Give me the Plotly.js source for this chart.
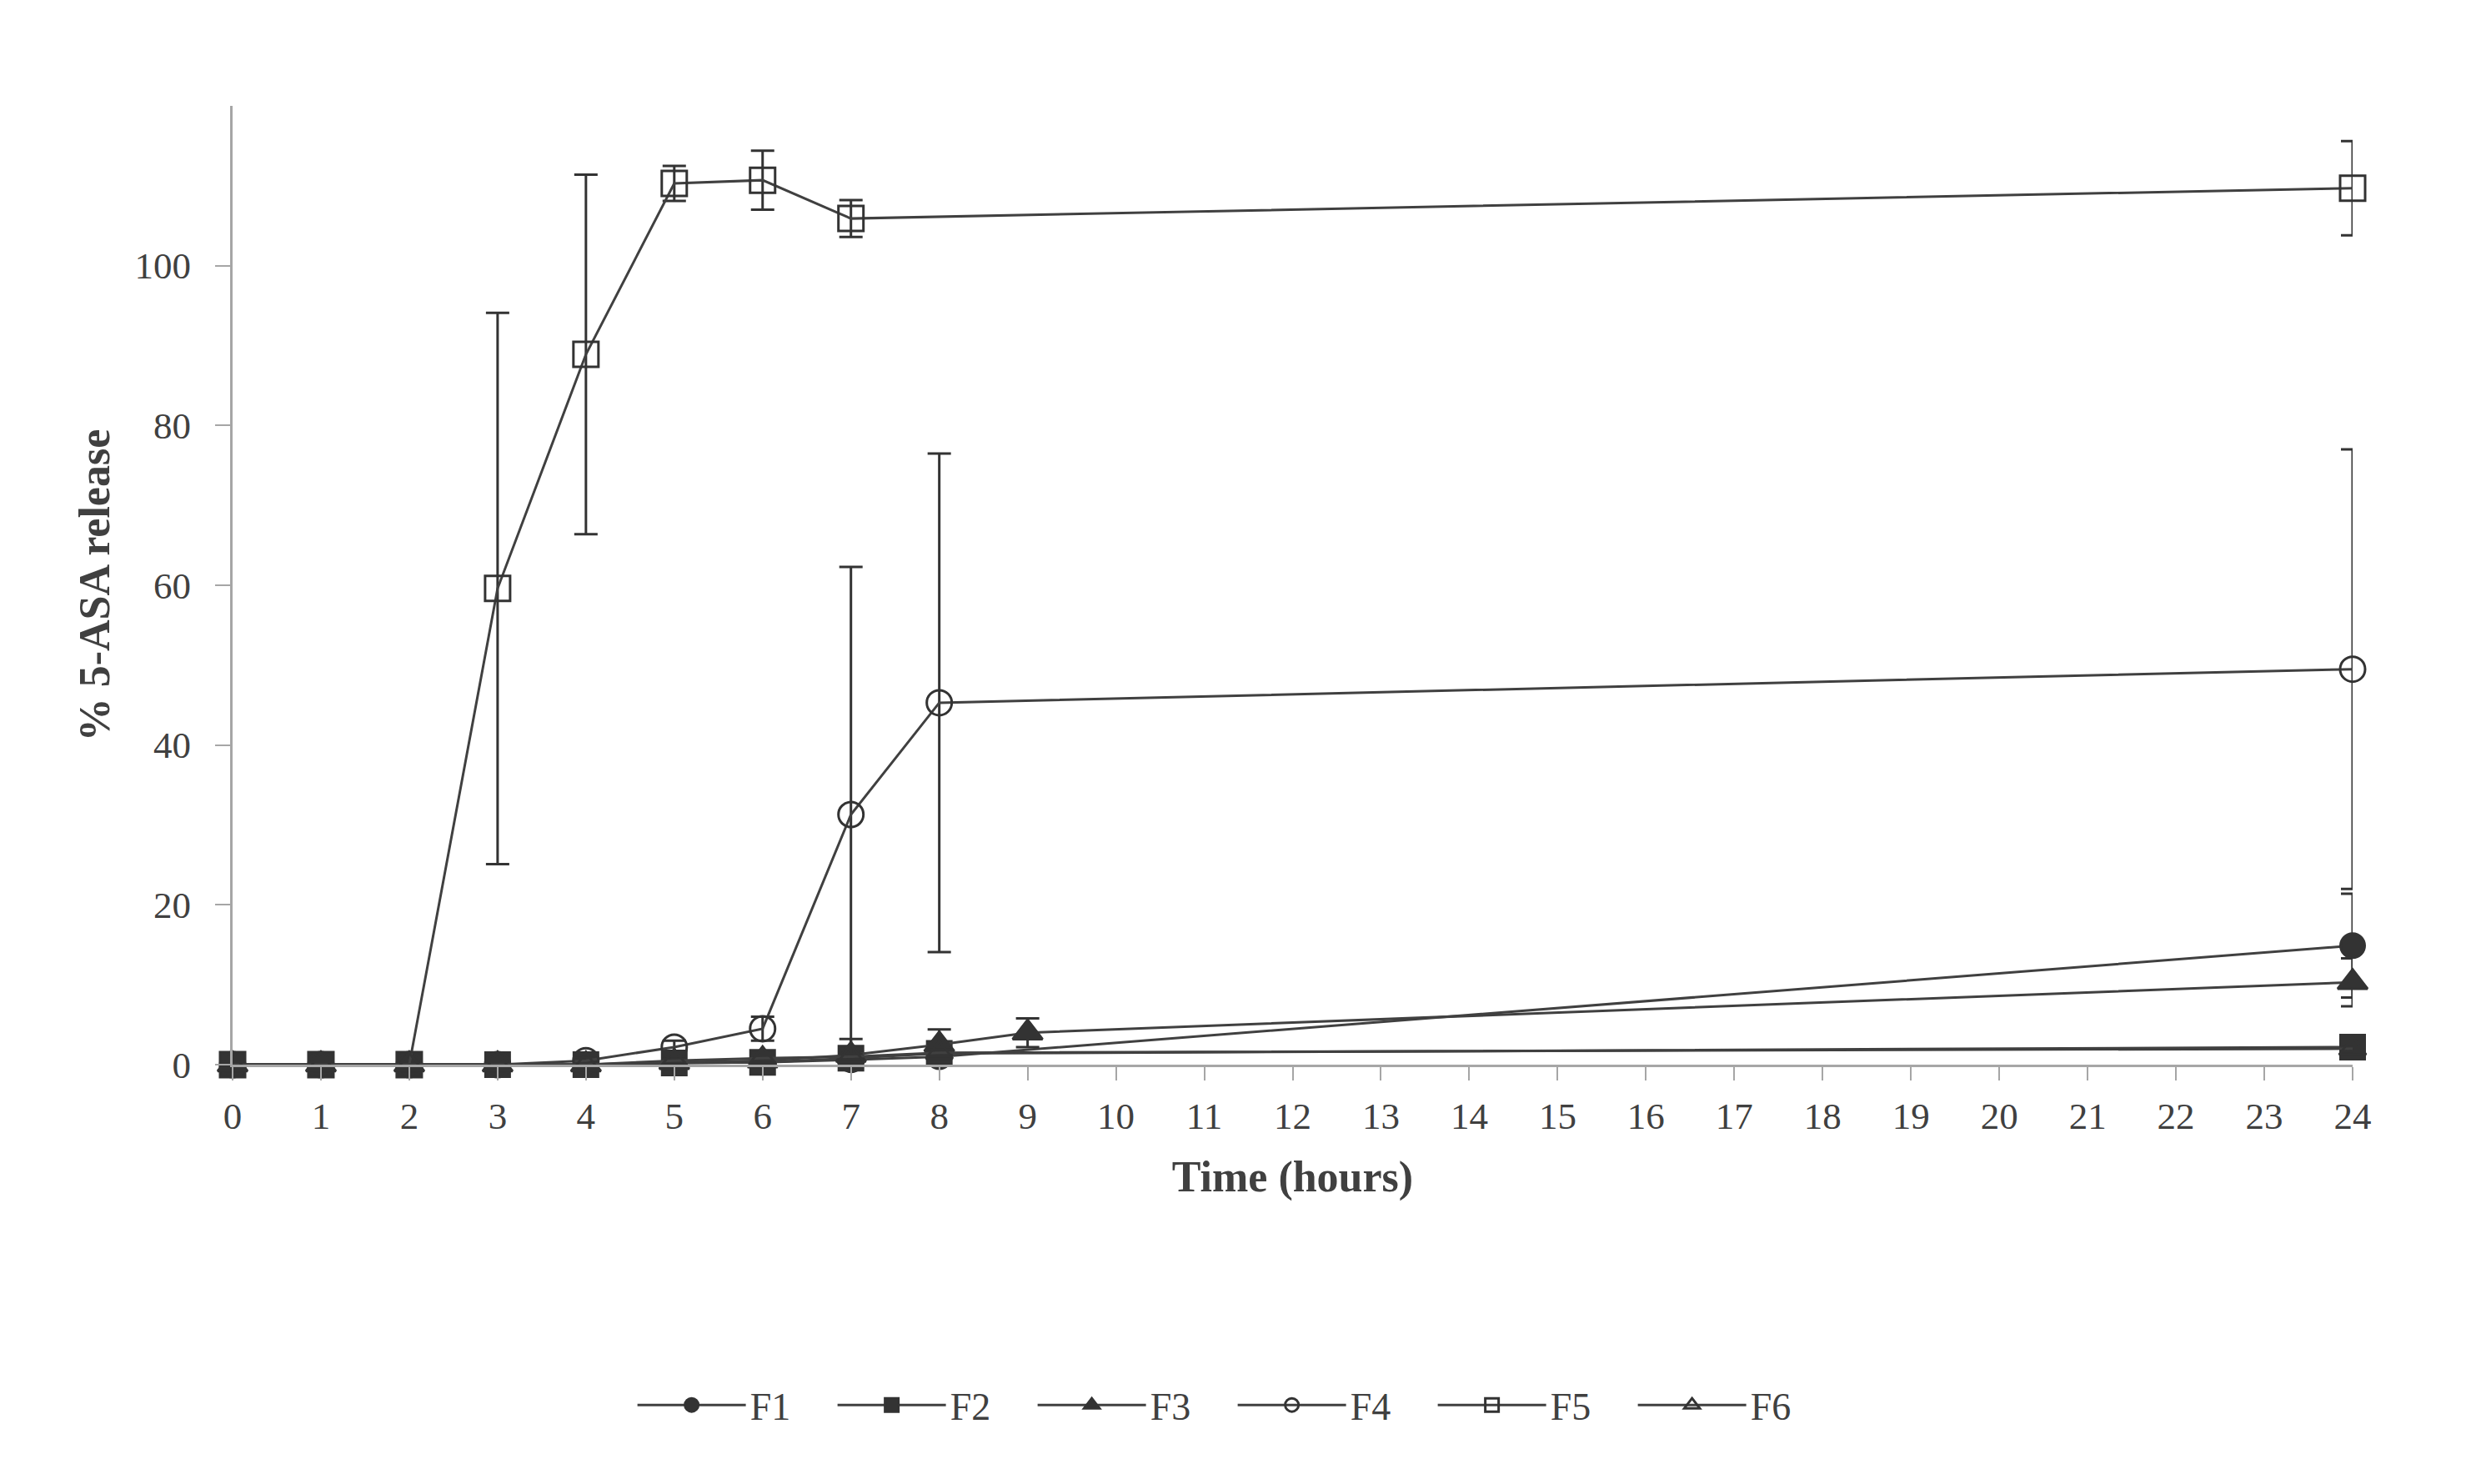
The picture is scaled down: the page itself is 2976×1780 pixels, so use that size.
<!DOCTYPE html>
<html>
<head>
<meta charset="utf-8">
<script src="https://cdn.plot.ly/plotly-3.0.1.min.js"></script>
<style>html,body{margin:0;padding:0;background:#fff;}#chart{width:2976px;height:1780px;}</style>
</head>
<body>
<div id="chart"></div>
<script>
// Time points (hours)
const hoursF1 = [0,1,2,3,4,5,6,7,8,24];
const hoursF2 = [0,1,2,3,4,5,6,7,8,24];
const hoursF3 = [0,1,2,3,4,5,6,7,8,9,24];
const hoursF4 = [0,1,2,3,4,5,6,7,8,24];
const hoursF5 = [0,1,2,3,4,5,6,7,24];
const hoursF6 = [0,1,2,3,4,5,6,7,8,24];

// % 5-ASA release (mean) and error (SD)
const releaseF1 = [0,0,0,0,0,0.2,0.3,0.6,1.0,14.9];
const errF1     = [0,0,0,0,0,0.1,0.2,0.4,0.6,6.5];
const releaseF2 = [0,0,0,0,0,0.2,0.3,0.8,1.4,2.2];
const errF2     = [0,0,0,0,0,0.1,0.1,0.3,0.4,0.3];
const releaseF3 = [0,0,0,0,0,0.3,0.5,1.2,2.5,4.0,10.3];
const errF3     = [0,0,0,0,0,0.2,0.4,2.0,1.9,1.8,3.0];
const releaseF4 = [0,0,0,0,0.5,2.2,4.5,31.3,45.3,49.5];
const errF4     = [0,0,0,0,0.3,0.8,1.5,31.0,31.2,27.5];
const releaseF5 = [0,0,0,59.6,88.9,110.3,110.7,105.9,109.7];
const errF5     = [0,0,0,34.5,22.5,2.2,3.7,2.3,5.9];
const releaseF6 = [0,0,0,0,0,0.5,0.8,1.0,1.5,2.0];
const errF6     = [0,0,0,0,0,0.2,0.3,0.3,0.4,0.3];

const seriesNames = ['F1','F2','F3','F4','F5','F6'];
const xTickVals = [0,1,2,3,4,5,6,7,8,9,10,11,12,13,14,15,16,17,18,19,20,21,22,23,24];
const yTickVals = [0,20,40,60,80,100];

const lineColor = '#404040';
const markColor = '#333333';

function mk(name, x, y, err, symbol, size) {
  return {
    type: 'scatter', mode: 'lines+markers', name: name,
    x: x, y: y, cliponaxis: false,
    line: {color: lineColor, width: 3},
    marker: {
      symbol: symbol, size: size,
      color: markColor,
      line: {color: markColor, width: 3}
    },
    error_y: {type: 'data', array: err, visible: true, color: '#333333', thickness: 3, width: 14}
  };
}

const data = [
  mk(seriesNames[0], hoursF1, releaseF1, errF1, 'circle', 29),
  mk(seriesNames[1], hoursF2, releaseF2, errF2, 'square', 29),
  mk(seriesNames[2], hoursF3, releaseF3, errF3, 'triangle-up', 31),
  mk(seriesNames[3], hoursF4, releaseF4, errF4, 'circle-open', 30),
  mk(seriesNames[4], hoursF5, releaseF5, errF5, 'square-open', 30),
  mk(seriesNames[5], hoursF6, releaseF6, errF6, 'triangle-up-open', 28)
];

const fontFam = '"Liberation Serif", "DejaVu Serif", serif';

const layout = {
  width: 2976, height: 1780,
  paper_bgcolor: '#ffffff', plot_bgcolor: '#ffffff',
  margin: {l: 279, r: 154, t: 127, b: 503},
  showlegend: true,
  font: {family: fontFam, color: '#404040'},
  xaxis: {
    range: [0, 24], tickvals: xTickVals, ticktext: xTickVals.map(String),
    showgrid: false, zeroline: false,
    showline: true, linecolor: '#a6a6a6', linewidth: 3,
    ticks: 'outside', ticklen: 16, tickwidth: 2, tickcolor: '#a6a6a6',
    tickfont: {family: fontFam, size: 45, color: '#404040'},
    ticklabelstandoff: 4,
    title: {text: '<b>Time (hours)</b>', font: {family: fontFam, size: 52, color: '#404040'}, standoff: 30}
  },
  yaxis: {
    range: [0, 120], tickvals: yTickVals, ticktext: yTickVals.map(String),
    showgrid: false, zeroline: false,
    showline: true, linecolor: '#a6a6a6', linewidth: 3,
    ticks: 'outside', ticklen: 18, tickwidth: 2, tickcolor: '#a6a6a6',
    tickfont: {family: fontFam, size: 45, color: '#404040'},
    ticklabelstandoff: 20,
    title: {text: '<b>% 5-ASA release</b>', font: {family: fontFam, size: 52, color: '#404040'}, standoff: 14}
  },
  legend: {
    orientation: 'h', x: 0.189, y: -0.355, xanchor: 'left', yanchor: 'middle',
    font: {family: fontFam, size: 46, color: '#404040'},
    itemwidth: 130,
    entrywidth: 95, entrywidthmode: 'pixels',
    bgcolor: 'rgba(0,0,0,0)'
  }
};

Plotly.newPlot('chart', data, layout, {staticPlot: true});
</script>
</body>
</html>
